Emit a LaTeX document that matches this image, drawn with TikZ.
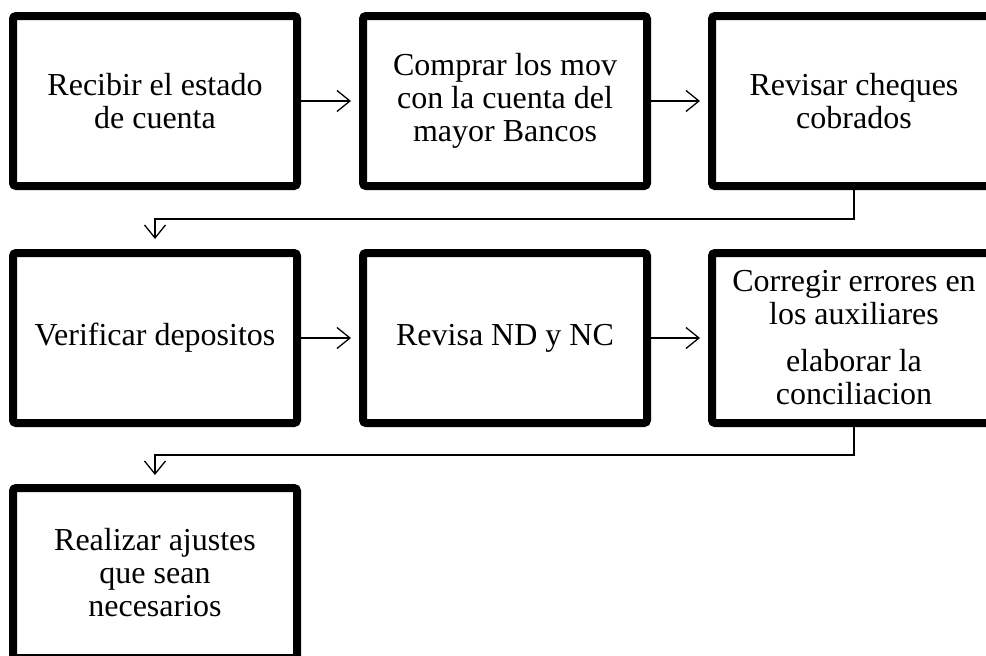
\documentclass[tikz,border=0pt]{standalone}
\usepackage{fontspec}
\setmainfont{Liberation Serif}
\usetikzlibrary{arrows.meta,shadows}

\begin{document}
\begin{tikzpicture}[x=1pt,y=-1pt,
  box/.style={draw,line width=8pt,rounded corners=3pt,fill=white,
    minimum width=284pt,minimum height=170pt,inner sep=0pt,align=center,
    font=\fontsize{32}{33}\selectfont,
    drop shadow={shadow xshift=1.5pt,shadow yshift=-2.5pt,opacity=0.3}},
  flow/.style={line width=1.3pt,-{Straight Barb[length=13pt,width=21pt,line width=1.3pt]}}]
\clip (0,0) rectangle (986,656);
% first row
\node[box] (recibir)  at (155,101) {Recibir el estado\\de cuenta};
\node[box] (comprar)  at (505,101) {Comprar los mov\\con la cuenta del\\mayor Bancos};
\node[box] (cheques)  at (854,101) {Revisar cheques\\cobrados};
% second row
\node[box] (depositos) at (155,338) {Verificar depositos};
\node[box] (ndnc)      at (505,338) {Revisa ND y NC};
\node[box] (corregir)  at (854,338) {Corregir errores en\\los auxiliares\\[14pt]elaborar la\\conciliacion};
% third row
\node[box] (ajustes)  at (155,573) {Realizar ajustes\\que sean\\necesarios};
% connectors
\coordinate (turn1) at (854,219);
\coordinate (turn2) at (854,455);
\draw[flow,shorten >=8pt] (recibir.east) -- (comprar.west);
\draw[flow,shorten >=8pt] (comprar.east) -- (cheques.west);
\draw[flow,shorten >=10pt] (cheques.south) -- (turn1) -| (depositos.north);
\draw[flow,shorten >=8pt] (depositos.east) -- (ndnc.west);
\draw[flow,shorten >=8pt] (ndnc.east) -- (corregir.west);
\draw[flow,shorten >=9pt] (corregir.south) -- (turn2) -| (ajustes.north);
\end{tikzpicture}
\end{document}
